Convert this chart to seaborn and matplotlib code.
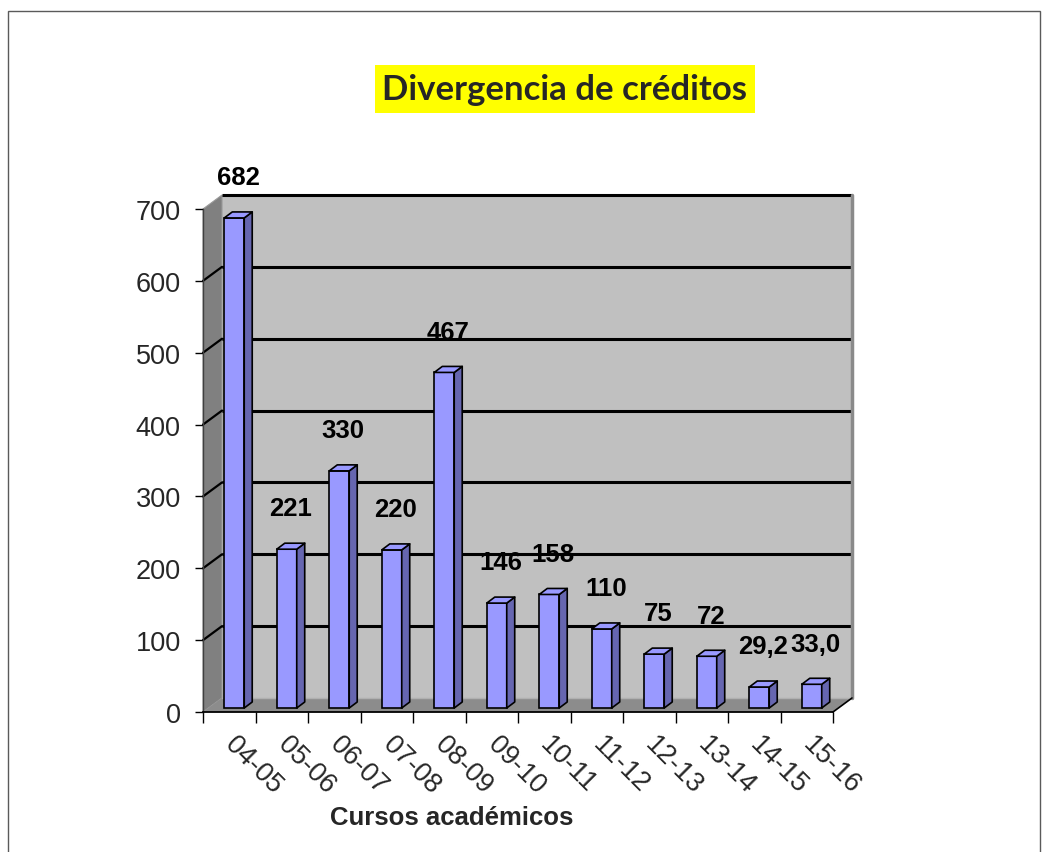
import matplotlib
matplotlib.use("Agg")
import matplotlib.pyplot as plt
import seaborn as sns
import pandas as pd
from matplotlib.patches import Polygon, Rectangle

# ---- data ----
cursos = ["04-05", "05-06", "06-07", "07-08", "08-09", "09-10",
          "10-11", "11-12", "12-13", "13-14", "14-15", "15-16"]
valores = [682, 221, 330, 220, 467, 146, 158, 110, 75, 72, 29.2, 33.0]
etiquetas = ["682", "221", "330", "220", "467", "146", "158", "110",
             "75", "72", "29,2", "33,0"]
yticks = [0, 100, 200, 300, 400, 500, 600, 700]
titulo = "Divergencia de créditos"
xlabel = "Cursos académicos"

df = pd.DataFrame({"curso": cursos, "valor": valores})

sns.set_theme(style="white")
plt.rcParams["font.family"] = ["Liberation Sans", "DejaVu Sans"]

W, H, DPI = 1048, 853, 100
fig = plt.figure(figsize=(W / DPI, H / DPI), dpi=DPI)
fig.patch.set_facecolor("white")

# axes placed to match pixel geometry of the front plane
L, R, B, T = 203, 833, 713, 210
ax = fig.add_axes([L / W, 1 - B / H, (R - L) / W, (B - T) / H])
ax.set_facecolor("none")

n = len(cursos)
xmin, xmax = -0.5, n - 0.5
ymax = 700
ux = (xmax - xmin) / (R - L)   # data units per pixel (x)
uy = ymax / (B - T)            # data units per pixel (y)

# depth offsets (pixels -> data)
Dx, Dy = 19 * ux, 14 * uy       # wall depth
fx, fy = 5 * ux, 4 * uy         # bar front offset from front plane
bx, by = 8 * ux, 6 * uy         # bar depth

sns.barplot(data=df, x="curso", y="valor", color="#9999FF", saturation=1,
            width=0.38, edgecolor="black", linewidth=1.2, ax=ax, zorder=3)

ax.set_xlim(xmin, xmax)
ax.set_ylim(0, ymax)

# ---- walls ----
wall_kw = dict(clip_on=False, zorder=0)
back = Rectangle((xmin + Dx, Dy), xmax - xmin, ymax, facecolor="#C0C0C0",
                 edgecolor="none", **wall_kw)
ax.add_patch(back)
left = Polygon([(xmin, 0), (xmin + Dx, Dy), (xmin + Dx, ymax + Dy), (xmin, ymax)],
               closed=True, facecolor="#808080", edgecolor="#9a9a9a", lw=0.8, **wall_kw)
ax.add_patch(left)
floor = Polygon([(xmin, 0), (xmax, 0), (xmax + Dx, Dy), (xmin + Dx, Dy)],
                closed=True, facecolor="#8C8C8C", edgecolor="none", **wall_kw)
ax.add_patch(floor)
# floor outline (front-right diagonal)
ax.plot([xmax, xmax + Dx], [0, Dy], color="black", lw=1.2, clip_on=False, zorder=1)
# back wall right edge
ax.plot([xmax + Dx, xmax + Dx], [Dy, ymax + Dy], color="#8a8a8a", lw=2.5,
        clip_on=False, zorder=0.6)
# back wall gridlines + top edge
for v in yticks[1:]:
    ax.plot([xmin + Dx, xmax + Dx], [v + Dy, v + Dy], color="black", lw=2.2,
            clip_on=False, zorder=0.5, solid_capstyle="butt")
    if v < ymax:
        ax.plot([xmin, xmin + Dx], [v, v + Dy], color="black", lw=1.6,
                clip_on=False, zorder=0.5)
# light line at floor / back wall junction
ax.plot([xmin + Dx, xmax + Dx], [Dy, Dy], color="#b0b0b0", lw=1.0,
        clip_on=False, zorder=0.7)

# ---- bars: shift into depth, add side and top faces ----
for p, lab in zip(ax.patches[:], etiquetas):
    if not isinstance(p, Rectangle) or p is back:
        continue
    x0, w, h = p.get_x(), p.get_width(), p.get_height()
    p.set_x(x0 + fx)
    p.set_y(fy)
    xl, xr, yb, yt = x0 + fx, x0 + fx + w, fy, fy + h
    side = Polygon([(xr, yb), (xr + bx, yb + by), (xr + bx, yt + by), (xr, yt)],
                   closed=True, facecolor="#6666B0", edgecolor="black", lw=1.2,
                   zorder=3, joinstyle="round")
    top = Polygon([(xl, yt), (xr, yt), (xr + bx, yt + by), (xl + bx, yt + by)],
                  closed=True, facecolor="#9999FF", edgecolor="black", lw=1.2,
                  zorder=3, joinstyle="round")
    ax.add_patch(side)
    ax.add_patch(top)
    ax.annotate(lab, xy=(x0 + w / 2 + fx + bx / 2, yt + by), xytext=(0, 25),
                textcoords="offset points", ha="center", va="center",
                fontsize=18.5, fontweight="bold", color="black",
                annotation_clip=False, zorder=5)

# ---- axes styling ----
for s in ["top", "right"]:
    ax.spines[s].set_visible(False)
ax.spines["left"].set_color("#404040")
ax.spines["left"].set_linewidth(1.0)
ax.spines["bottom"].set_color("black")
ax.spines["bottom"].set_linewidth(1.3)
ax.spines["left"].set_zorder(1)
ax.spines["bottom"].set_zorder(4)

ax.set_yticks(yticks)
ax.set_yticklabels([str(v) for v in yticks])
ax.tick_params(axis="y", direction="out", length=6, width=1, color="black",
               pad=10, labelsize=19.5, left=True)

ax.set_xticks(range(n))
ax.set_xticks([i - 0.5 for i in range(n + 1)], minor=True)
ax.set_xticklabels(cursos, rotation=-45, ha="left", va="center",
                   rotation_mode="anchor", fontsize=19.5)
ax.tick_params(axis="x", which="major", length=0, pad=20)
ax.tick_params(axis="x", which="minor", direction="out", length=8, width=1,
               color="black", bottom=True)

ax.set_xlabel(xlabel, fontsize=18.5, fontweight="bold")
ax.xaxis.label.set_va("center")
ax.xaxis.set_label_coords((452 - L) / (R - L), -(818 - B) / (B - T))
ax.set_ylabel("")
ax.grid(False)

# ---- title with yellow box ----
fig.text(565 / W, 1 - 90 / H, titulo, ha="center", va="center",
         fontsize=25, fontweight="bold", family=["Lato", "DejaVu Sans"],
         bbox=dict(boxstyle="square,pad=0.22", facecolor="#FFFF00", edgecolor="none"))

# ---- outer frame ----
fig.add_artist(Rectangle((8 / W, -0.01), (1040 - 8) / W, 1 - 12 / H + 0.01,
                         transform=fig.transFigure, fill=False,
                         edgecolor="#5a5a5a", lw=1.0))

fig.savefig("out.png", dpi=DPI, facecolor="white")
